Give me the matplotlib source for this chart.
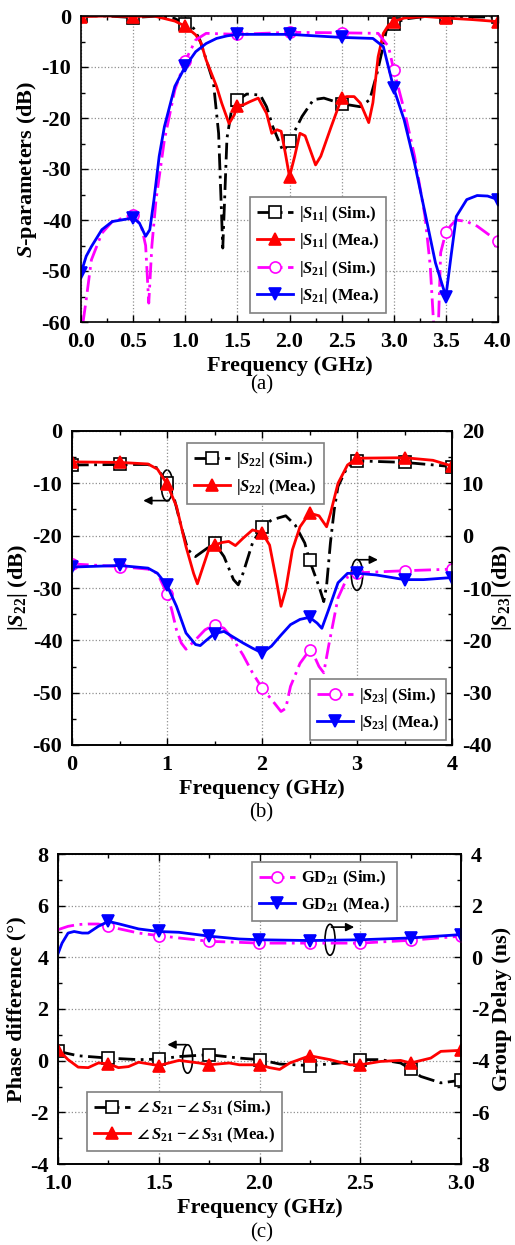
import numpy as np
import matplotlib
matplotlib.use('Agg')
import matplotlib.pyplot as plt
from matplotlib.patches import Ellipse
from matplotlib.ticker import MultipleLocator, FormatStrFormatter

plt.rcParams['font.family'] = ['Liberation Serif', 'DejaVu Serif']
plt.rcParams['font.weight'] = 'bold'
plt.rcParams['axes.unicode_minus'] = False
plt.rcParams['mathtext.fontset'] = 'custom'
plt.rcParams['mathtext.rm'] = 'Liberation Serif:bold'
plt.rcParams['mathtext.it'] = 'Liberation Serif:italic:bold'
plt.rcParams['mathtext.bf'] = 'Liberation Serif:bold'

# ---------------- (a) S11 / S21 ----------------
a_s11_sim_f = [0, 0.25, 0.5, 0.75, 0.9, 1.0, 1.08, 1.14, 1.2, 1.27, 1.32, 1.36, 1.40, 1.46, 1.5,
               1.59, 1.72, 1.78, 1.84, 1.94, 2.0, 2.12, 2.23, 2.33, 2.5, 2.68, 2.77, 2.84, 2.89,
               2.93, 3.0, 3.1, 3.3, 3.5, 3.75, 4.0]
a_s11_sim = [0, 0, -0.3, 0, -0.5, -1.6, -2.4, -4.7, -8.5, -13, -23, -45.5, -24, -16.4, -16.5,
             -15.3, -15.5, -17.8, -21.7, -26.6, -24.6, -19.7, -16.4, -16.1, -17.2, -17.8, -16.4,
             -11.2, -6.7, -2.7, -1.6, -0.6, -0.1, -0.1, -0.2, -0.2]
a_s11_mea_f = [0, 0.25, 0.5, 0.7, 0.8, 0.9, 1.0, 1.1, 1.15, 1.2, 1.3, 1.35, 1.42, 1.47, 1.5, 1.56,
               1.62, 1.7, 1.78, 1.83, 1.88, 1.92, 1.96, 2.0, 2.05, 2.1, 2.15, 2.25, 2.3, 2.4, 2.5,
               2.55, 2.62, 2.68, 2.76, 2.8, 2.85, 2.9, 2.95, 3.0, 3.1, 3.3, 3.5, 3.75, 4.0]
a_s11_mea = [-0.1, 0, -0.1, 0, -0.5, -1.0, -2.0, -3.7, -5.2, -8.6, -13.8, -17.1, -21.1, -19.4,
             -17.6, -17.4, -16.8, -16.1, -19.1, -23.0, -22.3, -22.6, -26.9, -31.5, -27.5, -23.0,
             -23.5, -29.2, -27.5, -21.7, -16.1, -15.8, -15.8, -17.1, -20.9, -17.0, -8.0, -3.4,
             -1.8, -1.1, -0.4, -0.1, -0.4, -0.7, -1.1]
a_s21_sim_f = [0, 0.02, 0.05, 0.1, 0.2, 0.3, 0.5, 0.58, 0.62, 0.65, 0.68, 0.72, 0.8, 0.9, 1.0, 1.1,
               1.2, 1.5, 2.0, 2.5, 2.85, 2.95, 3.0, 3.1, 3.2, 3.3, 3.35, 3.38, 3.4, 3.42, 3.45,
               3.5, 3.55, 3.6, 3.7, 3.8, 4.0]
a_s21_sim = [-66, -60, -55.6, -47.8, -42.6, -40.3, -39, -41.3, -45, -56.3, -45, -36, -24.3, -14.5,
             -8.8, -4.7, -3.4, -3.6, -3.2, -3.3, -3.4, -6, -10.6, -18.4, -27.5, -39.3, -49, -59.5,
             -66, -66, -46.4, -42.4, -41, -40, -40.3, -41.2, -44.2]
a_s21_mea_f = [0, 0.05, 0.1, 0.2, 0.3, 0.5, 0.56, 0.62, 0.66, 0.7, 0.75, 0.8, 0.9, 1.0, 1.1, 1.2,
               1.3, 1.4, 1.5, 2.0, 2.5, 2.8, 2.9, 3.0, 3.1, 3.2, 3.3, 3.4, 3.5, 3.55, 3.6, 3.7,
               3.8, 3.9, 4.0]
a_s21_mea = [-50.4, -47.1, -45.2, -41.9, -40.3, -39.6, -40.6, -43.2, -41.9, -36, -27.5, -21.7,
             -13.8, -9.9, -7, -5.4, -4.4, -3.9, -3.6, -3.6, -4.2, -4.4, -6, -14.2, -20.4, -28.9,
             -38.6, -48.4, -55, -47, -39.3, -36, -35.2, -35.3, -36]

# ---------------- (b) S22 (left) / S23 (right) ----------------
b_s22_sim_f = [0, 0.5, 0.8, 0.9, 1.0, 1.08, 1.15, 1.22, 1.3, 1.4, 1.5, 1.6, 1.7, 1.75, 1.8, 1.9,
               2.0, 2.1, 2.25, 2.35, 2.45, 2.5, 2.6, 2.65, 2.68, 2.72, 2.76, 2.8, 2.9, 3.0, 3.5, 4.0]
b_s22_sim = [-6.5, -6.4, -6.4, -7.1, -10, -13.2, -18.3, -22.7, -24, -22.7, -21.4, -24, -28.4,
             -29.4, -27.2, -21.4, -18.4, -17, -16.2, -18, -21.4, -24.7, -29.7, -32.6, -29.5,
             -21.4, -15.1, -10.6, -6.8, -5.7, -6.0, -6.8]
b_s22_mea_f = [0, 0.5, 0.8, 0.9, 1.0, 1.1, 1.2, 1.28, 1.32, 1.38, 1.45, 1.5, 1.58, 1.65, 1.72,
               1.8, 1.9, 2.0, 2.08, 2.15, 2.2, 2.25, 2.32, 2.4, 2.5, 2.6, 2.68, 2.72, 2.8, 2.9,
               3.0, 3.5, 3.8, 4.0]
b_s22_mea = [-5.9, -6.0, -6.3, -7.3, -10.1, -14.4, -22.1, -27.2, -29.2, -25.9, -22.1, -21.8,
             -21.3, -21.1, -21.9, -20.5, -18.9, -19.4, -21.8, -28.4, -33.5, -30.3, -22.7, -18.3,
             -15.7, -16.2, -18.3, -15.8, -10.0, -6.5, -5.2, -5.1, -5.6, -6.7]
b_s23_sim_f = [0, 0.5, 0.8, 0.9, 1.0, 1.05, 1.1, 1.15, 1.2, 1.3, 1.4, 1.5, 1.6, 1.7, 1.8, 1.9, 2.0,
               2.1, 2.2, 2.25, 2.3, 2.4, 2.5, 2.55, 2.6, 2.65, 2.7, 2.8, 2.9, 3.0, 3.5, 4.0]
b_s23_sim = [-5.4, -5.9, -6.4, -7.2, -11.1, -14.2, -18, -20.5, -21.7, -19.9, -18, -17, -17.7,
             -19.9, -22.8, -26.2, -29.1, -31.3, -33.6, -33.0, -28.8, -24.4, -21.9, -23.0, -25,
             -26.2, -21.2, -11.9, -7.9, -7.1, -6.7, -6.4]
b_s23_mea_f = [0, 0.5, 0.8, 0.9, 1.0, 1.1, 1.2, 1.3, 1.35, 1.4, 1.5, 1.6, 1.7, 1.8, 1.9, 2.0, 2.1,
               2.2, 2.3, 2.4, 2.5, 2.58, 2.63, 2.7, 2.8, 2.9, 3.0, 3.2, 3.5, 3.7, 4.0]
b_s23_mea = [-6, -5.7, -6.2, -7.2, -9.5, -13.5, -18.6, -20.8, -21, -20.2, -18.7, -18.3, -19.4,
             -20.5, -21.5, -22.4, -21.1, -19, -17, -16, -15.6, -16.7, -17.7, -14.2, -9, -7.2,
             -7.2, -7.5, -8.4, -8.4, -8]

# ---------------- (c) phase difference (left) / group delay (right) ----------------
c_gd_sim_f = [1.0, 1.05, 1.1, 1.15, 1.2, 1.25, 1.3, 1.4, 1.5, 1.6, 1.75, 1.9, 2.0, 2.25, 2.5, 2.75, 3.0]
c_gd_sim = [1.07, 1.2, 1.27, 1.29, 1.29, 1.2, 1.11, 0.94, 0.84, 0.75, 0.62, 0.58, 0.55, 0.55,
            0.55, 0.66, 0.82]
c_gd_mea_f = [1.0, 1.02, 1.05, 1.08, 1.12, 1.15, 1.2, 1.25, 1.3, 1.4, 1.5, 1.6, 1.75, 1.9, 2.0,
              2.25, 2.5, 2.75, 3.0]
c_gd_mea = [0.14, 0.55, 0.94, 1.0, 0.94, 0.94, 1.2, 1.39, 1.3, 1.1, 1.0, 0.97, 0.82, 0.71, 0.68,
            0.65, 0.68, 0.75, 0.88]
c_ph_sim_f = [1.0, 1.1, 1.25, 1.4, 1.5, 1.6, 1.75, 1.9, 2.0, 2.1, 2.25, 2.4, 2.5, 2.6, 2.7, 2.75,
              2.8, 2.9, 3.0]
c_ph_sim = [0.36, 0.19, 0.1, 0.04, 0.06, 0.16, 0.23, 0.1, 0.04, -0.13, -0.19, -0.09, 0.04, 0.04,
            -0.09, -0.32, -0.61, -0.86, -0.76]
c_ph_mea_f = [1.0, 1.05, 1.1, 1.15, 1.2, 1.25, 1.3, 1.35, 1.4, 1.5, 1.55, 1.6, 1.7, 1.75, 1.85,
              1.9, 2.0, 2.05, 2.1, 2.15, 2.25, 2.35, 2.45, 2.5, 2.6, 2.7, 2.75, 2.85, 2.9, 3.0]
c_ph_mea = [0.43, 0.04, -0.25, -0.27, -0.09, -0.12, -0.27, -0.23, -0.06, -0.19, -0.09, 0.01,
            -0.09, -0.16, -0.09, -0.16, -0.16, -0.27, -0.34, -0.09, 0.19, 0.04, -0.16, -0.16,
            -0.03, 0.01, -0.09, 0.1, 0.36, 0.4]

TICK = 16
LAB = 16
LEG = 12
DASHDOT = (0, (6, 2, 1, 2))


def marks(f, step, start=0.0):
    f = np.asarray(f)
    k = (f - start) / step
    return (np.abs(k - np.round(k)) < 1e-6) & (k > -1e-6)


def draw(ax, f, y, color, ls, marker, filled, label, step=0.5, start=0.0):
    ax.plot(f, y, color=color, ls=ls, lw=2, marker=marker, ms=8,
            markevery=list(marks(f, step, start)),
            mfc=color if filled else 'white', mec=color, mew=1.2, label=label)


def style(ax, grid=True):
    ax.tick_params(which='both', direction='in', labelsize=TICK, width=1, pad=7)
    ax.tick_params(which='major', length=5)
    ax.tick_params(which='minor', length=3)
    for s in ax.spines.values():
        s.set_linewidth(1.2)
    if grid:
        ax.grid(True, which='major', ls=':', color='#909090', lw=0.9)


def leg(ax, anchor):
    lg = ax.legend(loc='upper left', bbox_to_anchor=anchor, borderaxespad=0,
                   fontsize=LEG, fancybox=False, edgecolor='#808080', framealpha=1,
                   handlelength=2.2, labelspacing=0.45, borderpad=0.4, handletextpad=0.35)
    lg.get_frame().set_linewidth(1.2)
    return lg


def arrow(ax, start, end):
    ax.annotate('', xy=end, xytext=start,
                arrowprops=dict(arrowstyle='-|>', color='black', lw=1.2, mutation_scale=12,
                                shrinkA=0, shrinkB=0))


fig = plt.figure(figsize=(5.15, 12.45), dpi=100)

# ---- (a)
ax = fig.add_axes([81 / 515, 1 - 322 / 1245, 417 / 515, 306 / 1245])
draw(ax, a_s11_sim_f, a_s11_sim, 'black', DASHDOT, 's', False, r'$|S_{11}|$ (Sim.)')
draw(ax, a_s11_mea_f, a_s11_mea, 'red', '-', '^', True, r'$|S_{11}|$ (Mea.)')
draw(ax, a_s21_sim_f, a_s21_sim, 'magenta', DASHDOT, 'o', False, r'$|S_{21}|$ (Sim.)')
draw(ax, a_s21_mea_f, a_s21_mea, 'blue', '-', 'v', True, r'$|S_{21}|$ (Mea.)')
ax.set_xlim(0, 4)
ax.set_ylim(-60, 0)
ax.xaxis.set_major_locator(MultipleLocator(0.5))
ax.xaxis.set_minor_locator(MultipleLocator(0.25))
ax.yaxis.set_major_locator(MultipleLocator(10))
ax.yaxis.set_minor_locator(MultipleLocator(5))
ax.xaxis.set_major_formatter(FormatStrFormatter('%.1f'))
ax.tick_params(top=True, right=True, which='both')
style(ax)
ax.set_xlabel('Frequency (GHz)', fontsize=LAB, fontweight='bold', labelpad=3)
ax.set_ylabel(r'$S$-parameters (dB)', fontsize=LAB, fontweight='bold', labelpad=2)
leg(ax, (0.405, 0.408))
fig.text(0.508, 1 - 385 / 1245, '(a)', ha='center', va='center', fontsize=15, fontweight='normal')

# ---- (b)
ax = fig.add_axes([72 / 515, 1 - 745 / 1245, 380 / 515, 314 / 1245])
ax2 = ax.twinx()
draw(ax, b_s22_sim_f, b_s22_sim, 'black', DASHDOT, 's', False, r'$|S_{22}|$ (Sim.)')
draw(ax, b_s22_mea_f, b_s22_mea, 'red', '-', '^', True, r'$|S_{22}|$ (Mea.)')
draw(ax2, b_s23_sim_f, b_s23_sim, 'magenta', DASHDOT, 'o', False, r'$|S_{23}|$ (Sim.)')
draw(ax2, b_s23_mea_f, b_s23_mea, 'blue', '-', 'v', True, r'$|S_{23}|$ (Mea.)')
ax.set_xlim(0, 4)
ax.set_ylim(-60, 0)
ax2.set_ylim(-40, 20)
ax.xaxis.set_major_locator(MultipleLocator(1))
ax.xaxis.set_minor_locator(MultipleLocator(0.5))
for a in (ax, ax2):
    a.yaxis.set_major_locator(MultipleLocator(10))
    a.yaxis.set_minor_locator(MultipleLocator(5))
ax.tick_params(top=True, which='both')
style(ax)
style(ax2, grid=False)
ax.set_xlabel('Frequency (GHz)', fontsize=LAB, fontweight='bold', labelpad=3)
ax.set_ylabel(r'$|S_{22}|$ (dB)', fontsize=LAB, fontweight='bold', labelpad=2)
ax2.set_ylabel(r'$|S_{23}|$ (dB)', fontsize=LAB, fontweight='bold', labelpad=-1)
leg(ax, (0.303, 0.962))
leg(ax2, (0.626, 0.21))
ax.add_patch(Ellipse((1.0, -10.4), 0.12, 5.9, fill=False, ec='black', lw=1.2))
arrow(ax, (1.02, -13.3), (0.75, -13.3))
ax2.add_patch(Ellipse((3.0, -7.5), 0.12, 5.9, fill=False, ec='black', lw=1.2))
arrow(ax2, (3.01, -4.6), (3.22, -4.6))
fig.text(0.508, 1 - 813 / 1245, '(b)', ha='center', va='center', fontsize=15, fontweight='normal')

# ---- (c)
ax = fig.add_axes([58 / 515, 1 - 1164 / 1245, 403 / 515, 310 / 1245])
ax2 = ax.twinx()
draw(ax, c_ph_sim_f, c_ph_sim, 'black', DASHDOT, 's', False,
     r'$\angle\,S_{21}$ $-\angle\,S_{31}$ (Sim.)', step=0.25, start=1.0)
draw(ax, c_ph_mea_f, c_ph_mea, 'red', '-', '^', True,
     r'$\angle\,S_{21}$ $-\angle\,S_{31}$ (Mea.)', step=0.25, start=1.0)
draw(ax2, c_gd_sim_f, c_gd_sim, 'magenta', DASHDOT, 'o', False, r'GD$_{21}$ (Sim.)',
     step=0.25, start=1.25)
draw(ax2, c_gd_mea_f, c_gd_mea, 'blue', '-', 'v', True, r'GD$_{21}$ (Mea.)',
     step=0.25, start=1.25)
ax.set_xlim(1, 3)
ax.set_ylim(-4, 8)
ax2.set_ylim(-8, 4)
ax.xaxis.set_major_locator(MultipleLocator(0.5))
ax.xaxis.set_minor_locator(MultipleLocator(0.25))
ax.xaxis.set_major_formatter(FormatStrFormatter('%.1f'))
for a in (ax, ax2):
    a.yaxis.set_major_locator(MultipleLocator(2))
    a.yaxis.set_minor_locator(MultipleLocator(1))
ax.tick_params(top=True, which='both')
style(ax)
style(ax2, grid=False)
ax.set_xlabel('Frequency (GHz)', fontsize=LAB, fontweight='bold', labelpad=3)
ax.set_ylabel('Phase difference (°)', fontsize=LAB, fontweight='bold', labelpad=2)
ax2.set_ylabel('Group Delay (ns)', fontsize=LAB, fontweight='bold', labelpad=2)
leg(ax2, (0.481, 0.974))
leg(ax, (0.072, 0.232))
ax2.add_patch(Ellipse((2.35, 0.68), 0.05, 1.2, fill=False, ec='black', lw=1.2))
arrow(ax2, (2.357, 1.17), (2.47, 1.17))
ax.add_patch(Ellipse((1.643, 0.065), 0.05, 1.1, fill=False, ec='black', lw=1.2))
arrow(ax, (1.636, 0.62), (1.543, 0.62))
fig.text(0.508, 1 - 1233 / 1245, '(c)', ha='center', va='center', fontsize=15, fontweight='normal')

fig.savefig('out.png', dpi=100)
